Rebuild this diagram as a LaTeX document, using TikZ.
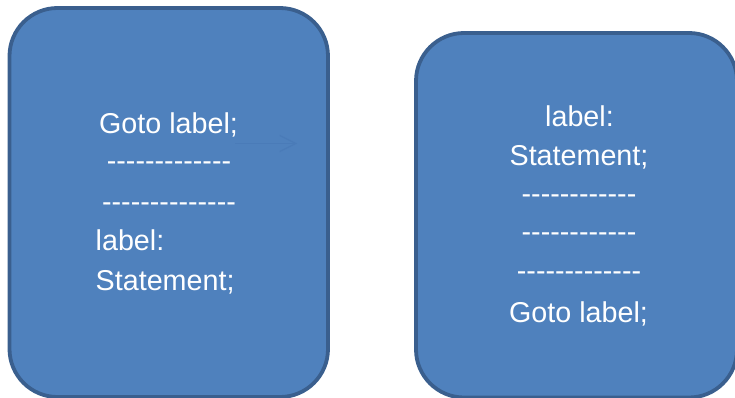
\documentclass[tikz,border=0pt]{standalone}
\usepackage{fontspec}
\setmainfont{Liberation Sans}
\usetikzlibrary{arrows.meta}
\definecolor{boxfill}{HTML}{4F81BD}
\definecolor{boxline}{HTML}{3A5F8E}
\definecolor{faintarrow}{HTML}{4A7BB8}
\newcommand\hy{-{}}
\tikzset{
  codebox/.style={fill=boxfill, draw=boxline, line width=3.8pt, rounded corners=48pt},
  codeline/.style={inner sep=0pt, text=white, font=\fontsize{28.7}{39}\selectfont},
  ctr/.style={codeline, anchor=base},
  lft/.style={codeline, anchor=base west},
  hint/.style={draw=faintarrow, line width=1.2pt, -{Straight Barb[length=16pt,width=16pt,line width=1.2pt]}}
}
\begin{document}
\begin{tikzpicture}[x=1pt,y=-1pt]
\useasboundingbox (0,0) rectangle (735,398);
% boxes
\draw[codebox] (9.5,8) rectangle (328,397);
\draw[codebox] (416,33) rectangle (737,397.5);
% left box text
\node[ctr] (lgoto) at (168.5,134) {Goto label;};
\node[ctr] (ldash1) at (169,171) {\hy\hy\hy\hy\hy\hy\hy\hy\hy\hy\hy\hy\hy};
\node[ctr] (ldash2) at (169,211) {\hy\hy\hy\hy\hy\hy\hy\hy\hy\hy\hy\hy\hy\hy};
\node[lft] (llabel) at (95.5,250) {label:};
\node[lft] (lstmt) at (95.5,290) {Statement;};
% faint arrow
\coordinate (arrA) at (235,143.5);
\coordinate (arrB) at (297,143.5);
\draw[hint] (arrA) -- (arrB);
% right box text
\node[ctr] (rlabel) at (579.5,127) {label:};
\node[ctr] (rstmt) at (579,165) {Statement;};
\node[ctr] (rdash1) at (579,203) {\hy\hy\hy\hy\hy\hy\hy\hy\hy\hy\hy\hy};
\node[ctr] (rdash2) at (579,241) {\hy\hy\hy\hy\hy\hy\hy\hy\hy\hy\hy\hy};
\node[ctr] (rdash3) at (579,280) {\hy\hy\hy\hy\hy\hy\hy\hy\hy\hy\hy\hy\hy};
\node[ctr] (rgoto) at (578.5,322) {Goto label;};
\end{tikzpicture}
\end{document}
